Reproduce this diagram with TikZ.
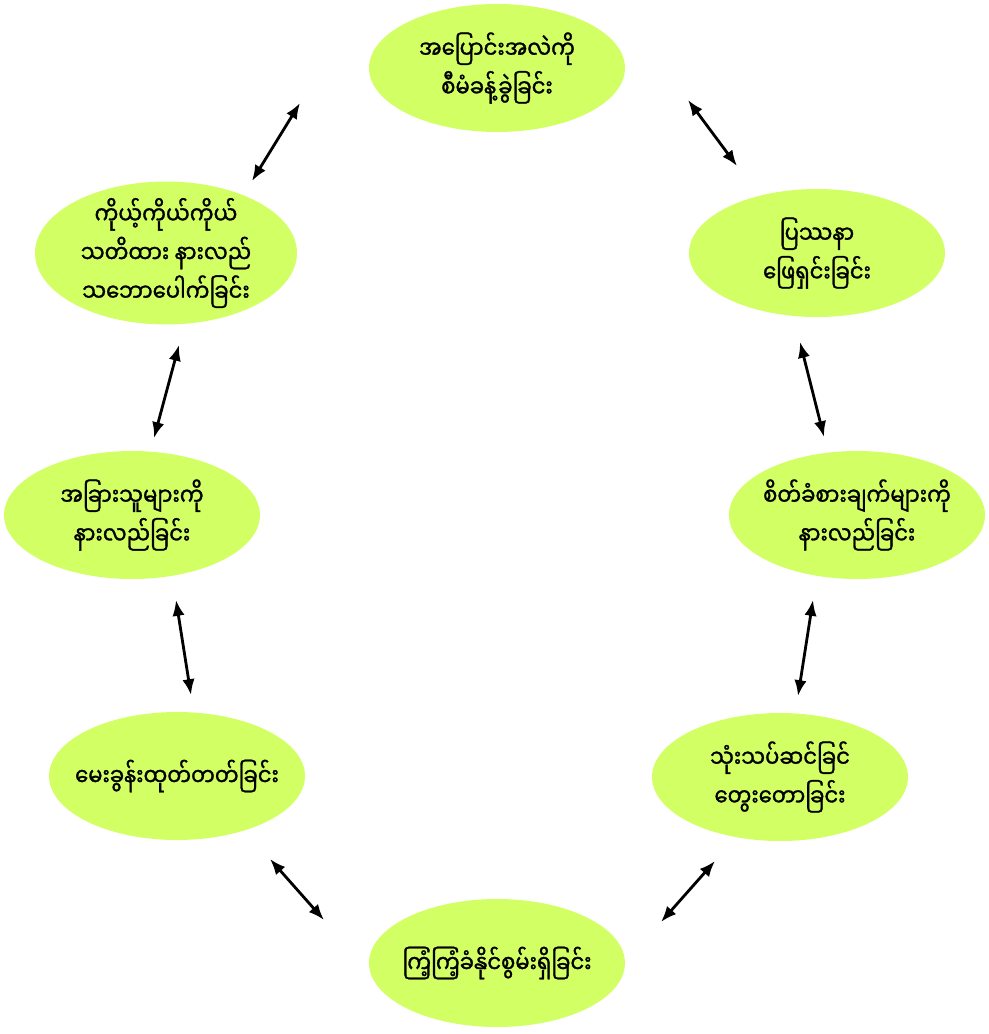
\documentclass[tikz,border=0pt]{standalone}
\usepackage{fontspec}
\newfontfamily\mmfont[Script=Myanmar,FakeBold=1.2,FakeStretch=0.86]{Noto Sans Myanmar UI}
\usetikzlibrary{arrows.meta}
\usepgflibrary{shapes.geometric}
\definecolor{stagegreen}{RGB}{210,255,100}
\tikzset{
  stage/.style={ellipse, fill=stagegreen, minimum width=5.12cm, minimum height=2.56cm,
    inner xsep=-0.5cm, inner ysep=-0.3cm, align=center, font=\mmfont\fontsize{14}{22}\selectfont},
  link/.style={{Latex[length=9pt,width=7pt]}-{Latex[length=9pt,width=7pt]}, line width=1.6pt}
}

\begin{document}
\begin{tikzpicture}[x=0.02cm, y=-0.02cm]
            \useasboundingbox (0,0) rectangle (988,1034);
            \node[stage] (change) at (497,68) {အပြောင်းအလဲကို\\စီမံခန့်ခွဲခြင်း};
            \node[stage] (problem) at (817,253) {ပြဿနာ\\ဖြေရှင်းခြင်း};
            \node[stage] (feelings) at (857,515) {စိတ်ခံစားချက်များကို\\နားလည်ခြင်း};
            \node[stage] (reflect) at (780,777) {သုံးသပ်ဆင်ခြင်\\တွေးတောခြင်း};
            \node[stage] (resilience) at (497,963) {ကြံ့ကြံ့ခံနိုင်စွမ်းရှိခြင်း};
            \node[stage] (question) at (177,776) {မေးခွန်းထုတ်တတ်ခြင်း};
            \node[stage] (others) at (132,515) {အခြားသူများကို\\နားလည်ခြင်း};
            \node[stage, minimum height=2.86cm, minimum width=5.24cm] (self) at (166,253) {ကိုယ့်ကိုယ်ကိုယ်\\သတိထား နားလည်\\သဘောပေါက်ခြင်း};

            % free arrow ends between the stages
            \coordinate (selfA) at (252,181);
            \coordinate (changeA) at (300,103);
            \coordinate (changeB) at (688,100);
            \coordinate (problemA) at (737,166);
            \coordinate (problemB) at (800,342);
            \coordinate (feelingsA) at (824,437);
            \coordinate (feelingsB) at (813,600);
            \coordinate (reflectA) at (798,696);
            \coordinate (reflectB) at (715,861);
            \coordinate (resilienceA) at (661,922);
            \coordinate (resilienceB) at (324,920);
            \coordinate (questionA) at (270,859);
            \coordinate (questionB) at (191,695);
            \coordinate (othersA) at (176,600);
            \coordinate (othersB) at (154,438);
            \coordinate (selfB) at (179,345);

            \draw[link] (selfA) -- (changeA);
            \draw[link] (changeB) -- (problemA);
            \draw[link] (problemB) -- (feelingsA);
            \draw[link] (feelingsB) -- (reflectA);
            \draw[link] (reflectB) -- (resilienceA);
            \draw[link] (resilienceB) -- (questionA);
            \draw[link] (questionB) -- (othersA);
            \draw[link] (othersB) -- (selfB);
        \end{tikzpicture}
\end{document}
